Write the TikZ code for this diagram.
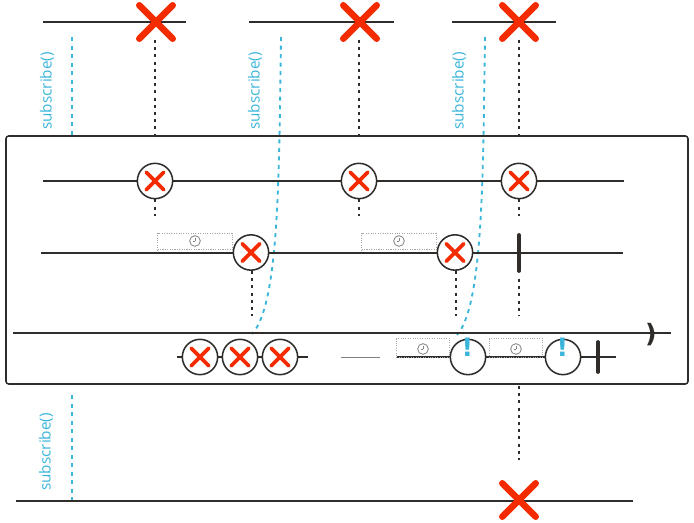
\documentclass[tikz,border=0pt]{standalone}
\usepackage{fontspec}
\setsansfont{Open Sans}
\newfontfamily\markfont{DejaVu Sans}
\usetikzlibrary{shapes.misc}
\definecolor{ink}{HTML}{2F2C2A}
\definecolor{sky}{HTML}{3CB5DB}
\definecolor{alarm}{HTML}{F52B00}
\tikzset{
  line/.style={draw=ink, line width=1.15pt},
  wait/.style={draw=ink, line width=1.4pt, dash pattern=on 2.3pt off 3.1pt},
  sub/.style={draw=sky, line width=1.4pt, dash pattern=on 3pt off 3.4pt},
  bigx/.style={cross out, draw=alarm, line width=5pt, line cap=round, inner sep=0pt, minimum size=20pt},
  smallx/.style={cross out, draw=alarm, line width=2.8pt, line cap=round, inner sep=0pt, minimum size=10.5pt},
  ball/.style={circle, draw=ink, fill=white, line width=1.15pt, inner sep=0pt, minimum size=26.5pt},
  endbar/.style={draw=ink, line width=2.8pt, line cap=round},
  delaybox/.style={draw=black!35, densely dotted, line width=0.8pt, inner sep=0pt, minimum height=12.5pt, minimum width=56pt},
  clock/.style={circle, draw=black!50, line width=0.6pt, inner sep=0pt, minimum size=8pt},
  hand/.style={draw=black!50, line width=0.5pt},
  subtext/.style={text=sky, rotate=90, font=\sffamily\fontsize{11.5pt}{13pt}\selectfont, inner sep=0pt},
  bang/.style={text=sky, font=\markfont\bfseries\fontsize{19pt}{20pt}\selectfont, inner sep=0pt}
}
\begin{document}
\begin{tikzpicture}[x=0.75pt, y=-0.75pt]
\useasboundingbox (0, 0) rectangle (694, 523);
% top timelines
\foreach \n/\a/\b/\c in {1/43/186/156, 2/249/394/360, 3/452/556/519} {
  \coordinate (ts\n) at (\a, 22);
  \coordinate (te\n) at (\b, 22);
  \draw[line] (ts\n) -- (te\n);
  \node[bigx] (tx\n) at (\c, 22) {};
}
% subscribe
\foreach \n/\x/\y in {1/47/91, 2/255/91, 3/459/91, 4/46/452} {
  \node[subtext] (st\n) at (\x, \y) {subscribe()};
}
\coordinate (sa1) at (72, 37);
\coordinate (sb1) at (72, 135);
\draw[sub] (sa1) -- (sb1);
\coordinate (sa2) at (281, 37);
\coordinate (sb2) at (252, 334);
\draw[sub] (sa2) .. controls (279, 180) and (279, 305) .. (sb2);
\coordinate (sa3) at (485, 37);
\coordinate (sb3) at (457, 335);
\draw[sub] (sa3) .. controls (483, 180) and (483, 305) .. (sb3);
\coordinate (sa4) at (72, 395);
\coordinate (sb4) at (72, 500);
\draw[sub] (sa4) -- (sb4);
% operator box
\draw[line, rounded corners=2pt] (6, 136) rectangle (688, 384);
% source row
\coordinate (ra) at (43, 181);
\coordinate (rb) at (624, 181);
\draw[line] (ra) -- (rb);
\foreach \n/\x in {1/155, 2/359, 3/519} {
  \node[ball] (rc\n) at (\x, 181) {};
  \node[smallx] (rx\n) at (rc\n) {};
  \coordinate (rd\n) at (\x, 216);
  \draw[wait] (rc\n.south) -- (rd\n);
  \coordinate (ua\n) at (\x, 40);
  \coordinate (ub\n) at (\x, 139);
  \draw[wait] (ua\n) -- (ub\n);
}
% delayed row
\coordinate (da) at (41, 253);
\coordinate (db) at (623, 253);
\draw[line] (da) -- (db);
\foreach \n/\x/\bx in {1/251/195, 2/455/399} {
  \node[delaybox] (db\n) at (\bx, 241.5) {};
  \node[clock] (dk\n) at (\bx, 241) {};
  \draw[hand] (dk\n.center) -- ++(0, -2.5) (dk\n.center) -- ++(-2, 0);
  \node[ball] (dc\n) at (\x, 252.5) {};
  \node[smallx] (dx\n) at (dc\n) {};
  \coordinate (de\n) at (\x+1, 316);
  \draw[wait] (dc\n.south -| de\n) -- (de\n);
}
\coordinate (ea) at (519, 235);
\coordinate (eb) at (519, 271);
\draw[endbar] (ea) -- (eb);
\coordinate (ec) at (519, 279);
\coordinate (ed) at (519, 316);
\draw[wait] (ec) -- (ed);
% merged row
\coordinate (ma) at (13, 333);
\coordinate (mb) at (671, 333);
\draw[line] (ma) -- (mb);
\node[text=ink, font=\markfont\bfseries\fontsize{19pt}{20pt}\selectfont, inner sep=0pt] (close) at (651, 335) {)};
% results
\coordinate (pa) at (177, 357);
\coordinate (pb) at (308, 357);
\draw[line] (pa) -- (pb);
\foreach \n/\x in {1/200, 2/240, 3/280} {
  \node[ball] (pc\n) at (\x, 357) {};
  \node[smallx] (px\n) at (pc\n) {};
}
\coordinate (qa) at (341, 357.5);
\coordinate (qb) at (380, 357.5);
\draw[draw=black!50, line width=1.15pt] (qa) -- (qb);
\coordinate (va) at (397, 357);
\coordinate (vb) at (616, 357);
\draw[line] (va) -- (vb);
\foreach \n/\x/\bx in {1/468/423, 2/563/516} {
  \node[delaybox, minimum width=40pt, minimum height=14pt] (vb\n) at (\bx, 348) {};
  \node[clock] (vk\n) at (\bx, 349) {};
  \draw[hand] (vk\n.center) -- ++(0, -2.5) (vk\n.center) -- ++(-2, 0);
  \node[ball] (vc\n) at (\x, 357) {};
  \node[bang] (vx\n) at (\x-0.5, 347) {!};
}
\coordinate (wa) at (598, 342);
\coordinate (wb) at (598, 372);
\draw[endbar] (wa) -- (wb);
% final line
\coordinate (za) at (519, 386);
\coordinate (zb) at (519, 460);
\draw[wait] (za) -- (zb);
\coordinate (fa) at (16, 501);
\coordinate (fb) at (633, 501);
\draw[line] (fa) -- (fb);
\node[bigx] (fx) at (519, 500) {};
\end{tikzpicture}
\end{document}
